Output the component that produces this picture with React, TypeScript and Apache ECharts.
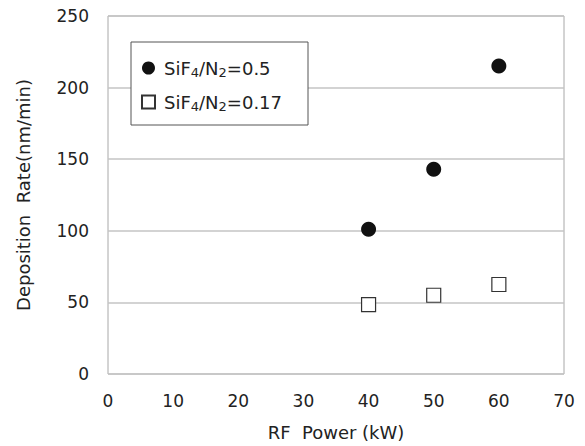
import React, { useEffect, useRef } from "react";
import * as echarts from "echarts";

const xTicks = [0, 10, 20, 30, 40, 50, 60, 70];
const power = [40, 50, 60];
const rateHigh = [101, 143, 215];
const rateLow = [48.5, 55, 62.5];
const seriesNames = ["SiF4/N2=0.5", "SiF4/N2=0.17"];

const FONT = "DejaVu Sans";

export default function App() {
  const ref = useRef<HTMLDivElement>(null);
  useEffect(() => {
    if (!ref.current) return;
    const chart = echarts.init(ref.current, null, { renderer: "svg" });
    const legendFmt = (name: string) => {
      const m = name.match(/^SiF4\/N2(=.*)$/);
      if (!m) return name;
      return `{f|SiF}{s|4}{a|/N}{s|2}{a|${m[1]}}`;
    };
    const main = { fontSize: 18, fontFamily: FONT, color: "#222", lineHeight: 22, verticalAlign: "middle" };
    chart.setOption({
      animation: false,
      backgroundColor: "#fff",
      textStyle: { fontFamily: FONT },
      grid: {
        left: 108,
        right: 21,
        top: 16,
        bottom: 71,
        show: true,
        borderColor: "#a8a8a8",
        borderWidth: 1,
      },
      legend: {
        orient: "vertical",
        left: 131,
        top: 42,
        padding: [17, 26, 12, 10],
        itemGap: 14,
        itemWidth: 13,
        itemHeight: 13,
        backgroundColor: "#fff",
        borderColor: "#555",
        borderWidth: 1,
        selectedMode: false,
        data: seriesNames,
        formatter: legendFmt,
        textStyle: {
          fontFamily: FONT,
          color: "#222",
          rich: {
            f: { ...main, padding: [0, 0, 0, 4] },
            a: main,
            s: { fontSize: 13, fontFamily: FONT, color: "#222", lineHeight: 22, verticalAlign: "bottom" },
          },
        },
      },
      xAxis: {
        type: "value",
        min: 0,
        max: 70,
        interval: 10,
        name: "RF  Power (kW)",
        nameLocation: "middle",
        nameGap: 49,
        nameTextStyle: { fontFamily: FONT, fontSize: 18, color: "#222" },
        axisLine: { show: false },
        axisTick: { show: false },
        splitLine: { show: false },
        axisLabel: {
          fontFamily: FONT,
          fontSize: 17,
          color: "#222",
          margin: 18,
          formatter: (v: number) => (xTicks.includes(v) ? String(v) : ""),
        },
      },
      yAxis: {
        type: "value",
        min: 0,
        max: 250,
        interval: 50,
        name: "Deposition  Rate(nm/min)",
        nameLocation: "middle",
        nameGap: 76,
        nameRotate: 90,
        nameTextStyle: { fontFamily: FONT, fontSize: 18, color: "#222" },
        axisLine: { show: false },
        axisTick: { show: false },
        splitLine: { show: true, lineStyle: { color: "#c4c4c4", width: 1.5 } },
        axisLabel: { fontFamily: FONT, fontSize: 17, color: "#222", margin: 19 },
      },
      series: [
        {
          name: seriesNames[0],
          type: "scatter",
          symbol: "circle",
          symbolSize: 15,
          itemStyle: { color: "#111", opacity: 1 },
          data: power.map((p, i) => [p, rateHigh[i]]),
        },
        {
          name: seriesNames[1],
          type: "scatter",
          symbol: "rect",
          symbolSize: 14,
          itemStyle: { color: "#fff", borderColor: "#333", borderWidth: 1.2, opacity: 1 },
          data: power.map((p, i) => [p, rateLow[i]]),
        },
      ],
    });
    return () => chart.dispose();
  }, []);
  return <div ref={ref} style={{ width: 585, height: 446, position: "fixed", left: 0, top: 0 }} />;
}
